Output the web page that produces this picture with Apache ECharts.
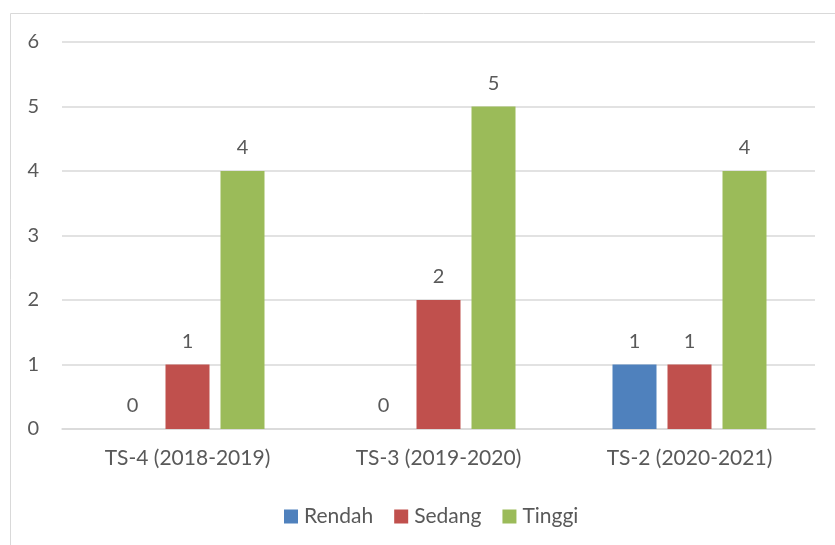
<!DOCTYPE html>
<html><head><meta charset="utf-8">
<script src="https://cdn.jsdelivr.net/npm/echarts@6/dist/echarts.min.js"></script>
<style>html,body{margin:0;padding:0;background:#fff}#c{width:835px;height:545px}</style>
</head><body><div id="c"></div>
<script>
var categories = ['TS-4 (2018-2019)', 'TS-3 (2019-2020)', 'TS-2 (2020-2021)'];
var seriesNames = ['Rendah', 'Sedang', 'Tinggi'];
var rendah = [0, 0, 1];
var sedang = [1, 2, 1];
var tinggi = [4, 5, 4];
var colors = ['#4F81BD', '#C0504D', '#9BBB59'];
var font = 'Lato, "Open Sans", sans-serif';
var txt = '#595959';
var chart = echarts.init(document.getElementById('c'));
function mk(name, data, color) {
  return {
    name: name, type: 'bar', data: data, barWidth: 44, barGap: '25%',
    itemStyle: { color: color },
    label: { show: true, position: 'top', distance: 13, color: txt, fontSize: 20, fontFamily: font },
    emphasis: { disabled: true }
  };
}
chart.setOption({
  animation: false,
  textStyle: { fontFamily: font },
  graphic: [{ type: 'rect', shape: { x: 10.5, y: 13.5, width: 840, height: 560 }, style: { fill: 'none', stroke: '#d9d9d9', lineWidth: 1 }, silent: true }],
  grid: { left: 62, right: 20, top: 42, bottom: 116, containLabel: false },
  legend: {
    data: seriesNames, left: 279, top: 501, itemWidth: 14, itemHeight: 14, itemGap: 21,
    icon: 'rect', textStyle: { color: txt, fontSize: 21, fontFamily: font, padding: [0, 0, 0, 1] }
  },
  xAxis: {
    type: 'category', data: categories,
    axisLine: { lineStyle: { color: '#d9d9d9', width: 1.5 } }, axisTick: { show: false },
    axisLabel: { color: txt, fontSize: 21, fontFamily: font, margin: 19 }
  },
  yAxis: {
    type: 'value', min: 0, max: 6, interval: 1,
    axisLine: { show: false }, axisTick: { show: false },
    splitLine: { lineStyle: { color: '#d9d9d9', width: 1.5 } },
    axisLabel: { color: txt, fontSize: 20, fontFamily: font, margin: 23 }
  },
  series: [mk(seriesNames[0], rendah, colors[0]), mk(seriesNames[1], sedang, colors[1]), mk(seriesNames[2], tinggi, colors[2])]
});
</script></body></html>
